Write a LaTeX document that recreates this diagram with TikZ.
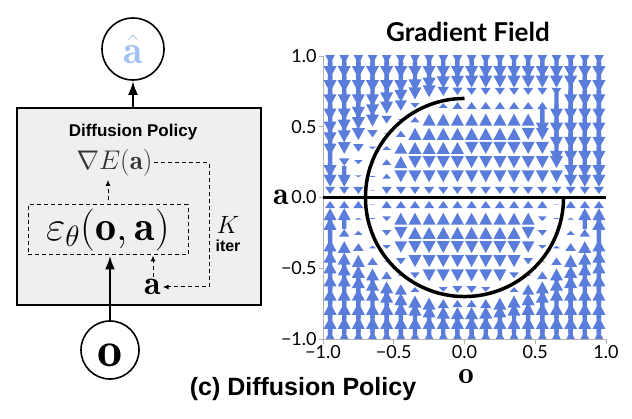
\RequirePackage{fix-cm}
\documentclass[tikz,border=0pt]{standalone}
\usepackage{fontspec}
\usetikzlibrary{arrows.meta}
\newfontfamily\helv{Liberation Sans}
\newfontfamily\plotfont{Lato}
\definecolor{fieldblue}{HTML}{5A7DDC}
\definecolor{ahatblue}{HTML}{A3C0F2}
\definecolor{boxgray}{HTML}{EFEFEF}

\begin{document}
\begin{tikzpicture}[x=1pt, y=1pt, thick]
        \tikzstyle{io}=[circle,draw=black,line width=1.6pt,minimum size=62pt,inner sep=0pt]
        \tikzstyle{policy}=[rectangle,draw=black,line width=2pt,fill=boxgray,minimum width=244pt,minimum height=197pt,inner sep=0pt]
        \tikzstyle{net}=[rectangle,draw=black,line width=1pt,dash pattern=on 4pt off 3pt,minimum width=160pt,minimum height=50pt,inner sep=0pt]
        \tikzstyle{loop}=[line width=1pt,dash pattern=on 4pt off 3pt,-{Latex[length=6pt,width=5pt]}]
        \tikzstyle{flow}=[line width=2.5pt,-{Latex[length=14pt,width=10pt]}]
        \tikzstyle{tick}=[inner sep=0pt,font=\plotfont\fontsize{18}{18}\selectfont]
        \useasboundingbox (0,0) rectangle (632,418);

        % left: the policy block
        \node[policy] (dp) at (139,211.5) {};
        \node[font=\helv\bfseries\fontsize{17}{17}\selectfont] (dptitle) at (133,286) {Diffusion Policy};
        \node[inner sep=1pt, text=black!80, font=\fontsize{27}{27}\selectfont] (grad) at (114.5,255) {$\nabla E(\mathbf{a})$};
        \node[net, font=\fontsize{42}{42}\selectfont] (eps) at (108,188) {$\varepsilon_\theta(\mathbf{o},\mathbf{a})$};
        \node[inner sep=1pt, font=\fontsize{34}{34}\selectfont] (anoisy) at (153,131) {$\mathbf{a}$};
        \node[inner sep=0pt, font=\fontsize{25}{25}\selectfont] (kiter) at (228,193) {$K$};
        \node[below of=kiter, node distance=21pt, inner sep=0pt, font=\helv\bfseries\fontsize{16}{16}\selectfont] (iter) {iter};
        \node[io, font=\fontsize{40}{40}\selectfont] (ahat) at (133,369) {\textcolor{ahatblue}{$\hat{\mathbf{a}}$}};
        \node[io, minimum size=58pt, text height=34pt, font=\fontsize{50}{50}\selectfont] (obs) at (110,68) {$\mathbf{o}$};
        \coordinate (loopturn) at (209,255);

        \draw[flow] (ahat |- dp.north) -- (ahat.south);
        \draw[flow] (obs.north) -- (obs.north |- eps.south);
        \draw[loop, shorten <=4pt, shorten >=2pt] (eps.north) -- (eps.north |- grad.south);
        \draw[loop, shorten <=1pt] (anoisy.north) -- (anoisy.north |- eps.south);
        \draw[loop] (grad.east) -- (loopturn) |- (anoisy.east);

        % right: the gradient field
        \node[font=\plotfont\bfseries\fontsize{26}{26}\selectfont] (fieldtitle) at (468,386) {Gradient Field};
        \begin{scope}
            \clip (323,79) rectangle (606,362);
            \foreach \i in {0,...,21} {
                \foreach \j in {0,...,21} {
                    \pgfmathsetmacro\px{-1.05+0.1*\i}
                    \pgfmathsetmacro\py{-1.05+0.1*\j}
                    \pgfmathsetmacro\rr{sqrt((\px)^2+(\py)^2)}
                    \pgfmathsetmacro\inq{and(\px>0,\py>0)}
                    \pgfmathsetmacro\darc{\inq ? sqrt((\px)^2+(\py-0.7)^2) : abs(\rr-0.7)}
                    \pgfmathsetmacro\varc{\inq ? 0.7-(\py) : (\py)*(0.7/\rr-1)}
                    \pgfmathsetmacro\vv{\darc<abs(\py) ? \varc : -(\py)}
                    \pgfmathsetmacro\asign{\vv<0 ? -1 : 1}
                    \pgfmathsetmacro\acap{\rr<0.72 ? 12 : 30}
                    \pgfmathsetmacro\alen{min(abs(\vv)*140,\acap)}
                    \pgfmathsetmacro\ahead{min(\alen,12)}
                    \pgfmathsetmacro\ahw{3+3.5*min(1,\alen/12)}
                    \pgfmathsetmacro\cx{464.5+141.5*(\px)}
                    \pgfmathsetmacro\cy{220.5+141.5*(\py)}
                    \pgfmathsetmacro\ytail{\cy-(\asign)*\alen/2}
                    \pgfmathsetmacro\ybase{\cy+(\asign)*(\alen/2-\ahead)}
                    \pgfmathsetmacro\ytip{\cy+(\asign)*\alen/2}
                    \fill[fieldblue] (\cx-2.2,\ytail) -- (\cx-2.2,\ybase) -- (\cx-\ahw,\ybase) -- (\cx,\ytip)
                        -- (\cx+\ahw,\ybase) -- (\cx+2.2,\ybase) -- (\cx+2.2,\ytail) -- cycle;
                }
            }
        \end{scope}
        \draw[gray!60, line width=0.8pt] (323,362) -- (323,79) -- (606,79);
        \draw[line width=3.5pt] (323,220.5) -- (606,220.5);
        \draw[line width=3.5pt] (464.5,319.55) arc[start angle=90, end angle=360, radius=99.05];
        \foreach \v/\lab [count=\k] in {-1/−1.0, -0.5/−0.5, 0/0.0, 0.5/0.5, 1/1.0} {
            \draw[gray!60, line width=0.8pt] (318.5,220.5+141.5*\v) -- (323,220.5+141.5*\v);
            \draw[gray!60, line width=0.8pt] (464.5+141.5*\v,79) -- (464.5+141.5*\v,74.5);
            \node[tick, anchor=east] (ylab\k) at (317,220.5+141.5*\v) {\lab};
            \node[tick] (xlab\k) at (464.5+141.5*\v,66) {\lab};
        }
        \node[inner sep=0pt, font=\fontsize{32}{32}\selectfont] (alabel) at (281,221) {$\mathbf{a}$};
        \node[inner sep=0pt, font=\fontsize{31}{31}\selectfont] (olabel) at (466,41) {$\mathbf{o}$};

        \node[font=\helv\bfseries\fontsize{25}{25}\selectfont] (caption) at (303,29) {(c) Diffusion Policy};
\end{tikzpicture}
\end{document}
